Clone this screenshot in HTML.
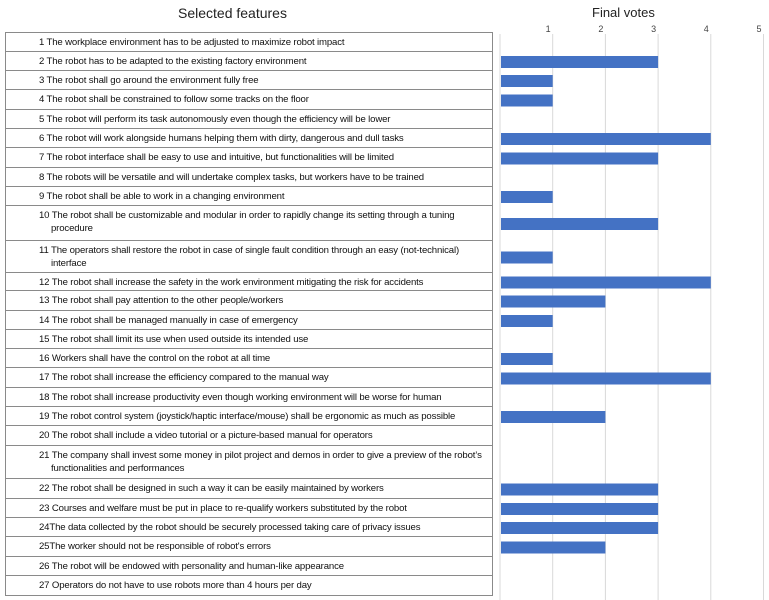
<!DOCTYPE html>
<html><head><meta charset="utf-8"><style>
body{margin:0;width:769px;height:600px;background:#fff;font-family:"Liberation Sans",sans-serif;position:relative;overflow:hidden}
.t{position:absolute;color:#222}
.row{position:absolute;left:5px;width:488px;border:1px solid #8a8a8a;box-sizing:border-box;font-size:9.6px;color:#111;padding-left:33px;padding-top:3px;line-height:13px;letter-spacing:-0.15px}
.row .w{display:inline-block;padding-left:12px;text-indent:-12px}
</style></head><body>
<div class="t" style="left:178px;top:5px;font-size:14px">Selected features</div>
<div class="t" style="left:592px;top:5px;font-size:13px">Final votes</div>
<div id="tbl"></div>
<svg id="chart" width="769" height="600" style="position:absolute;left:0;top:0"></svg>
<script>
const features=["1 The workplace environment has to be adjusted to maximize robot impact","2 The robot has to be adapted to the existing factory environment","3 The robot shall go around the environment fully free","4 The robot shall be constrained to follow some tracks on the floor","5 The robot will perform its task autonomously even though the efficiency will be lower","6 The robot will work alongside humans helping them with dirty, dangerous and dull tasks","7 The robot interface shall be easy to use and intuitive, but functionalities will be limited","8 The robots will be versatile and will undertake complex tasks, but workers have to be trained","9 The robot shall be able to work in a changing environment","10 The robot shall be customizable and modular in order to rapidly change its setting through a tuning procedure","11 The operators shall restore the robot in case of single fault condition through an easy (not-technical) interface","12 The robot shall increase the safety in the work environment mitigating the risk for accidents","13 The robot shall pay attention to the other people/workers","14 The robot shall be managed manually in case of emergency","15 The robot shall limit its use when used outside its intended use","16 Workers shall have the control on the robot at all time","17 The robot shall increase the efficiency compared to the manual way","18 The robot shall increase productivity even though working environment will be worse for human","19 The robot control system (joystick/haptic interface/mouse) shall be ergonomic as much as possible","20 The robot shall include a video tutorial or a picture-based manual for operators","21 The company shall invest some money in pilot project and demos in order to give a preview of the robot\u2019s functionalities and performances","22 The robot shall be designed in such a way it can be easily maintained by workers","23 Courses and welfare must be put in place to re-qualify workers substituted by the robot","24The data collected by the robot should be securely processed taking care of privacy issues","25The worker should not be responsible of robot's errors","26 The robot will be endowed with personality and human-like appearance","27 Operators do not have to use robots more than 4 hours per day"];
const votes=[0,3,1,1,0,4,3,0,1,3,1,4,2,1,0,1,4,0,2,0,0,3,3,3,2,0,0];
const ticks=[1,2,3,4,5];
const rowTops=[32,51,70,89,109,128,147,167,186,205,240,272,290,310,329,348,367,387,406,425,445,478,498,517,536,556,575,595];
const tbl=document.getElementById('tbl');
features.forEach((f,i)=>{
 const d=document.createElement('div');d.className='row';
 
 
 d.style.top=rowTops[i]+'px';d.style.height=(rowTops[i+1]-rowTops[i]+1)+'px';
 const s=document.createElement('span');s.className='w';s.textContent=f;
 if(f.length>100){s.style.width='440px';}
 d.appendChild(s);tbl.appendChild(d);
});
const svg=document.getElementById('chart');const NS='http://www.w3.org/2000/svg';
const x0=500,unit=52.7;const xs=v=>x0+v*unit;
const yc=i=>(rowTops[i]+rowTops[i+1])/2+1.5;
ticks.forEach(t=>{
 const l=document.createElementNS(NS,'line');
 l.setAttribute('x1',xs(t));l.setAttribute('x2',xs(t));l.setAttribute('y1',34);l.setAttribute('y2',600);
 l.setAttribute('stroke','#d9d9d9');l.setAttribute('stroke-width','1');
 
 
 svg.appendChild(l);
 const tx=document.createElementNS(NS,'text');
 tx.setAttribute('x',xs(t)-2);tx.setAttribute('y',32);tx.setAttribute('font-size','9');tx.setAttribute('text-anchor','end');tx.setAttribute('fill','#444');
 tx.textContent=t;
 
 
 svg.appendChild(tx);
});
const ax=document.createElementNS(NS,'line');
ax.setAttribute('x1',x0);ax.setAttribute('x2',x0);ax.setAttribute('y1',34);ax.setAttribute('y2',600);ax.setAttribute('stroke','#d9d9d9');


svg.appendChild(ax);
votes.forEach((v,i)=>{
 if(v<=0)return;
 const r=document.createElementNS(NS,'rect');
 r.setAttribute('x',xs(0)+1);r.setAttribute('y',yc(i)-6);r.setAttribute('width',xs(v)-xs(0)-1);r.setAttribute('height',12);r.setAttribute('fill','#4472c4');
 
 
 svg.appendChild(r);
});
</script>
</body></html>
